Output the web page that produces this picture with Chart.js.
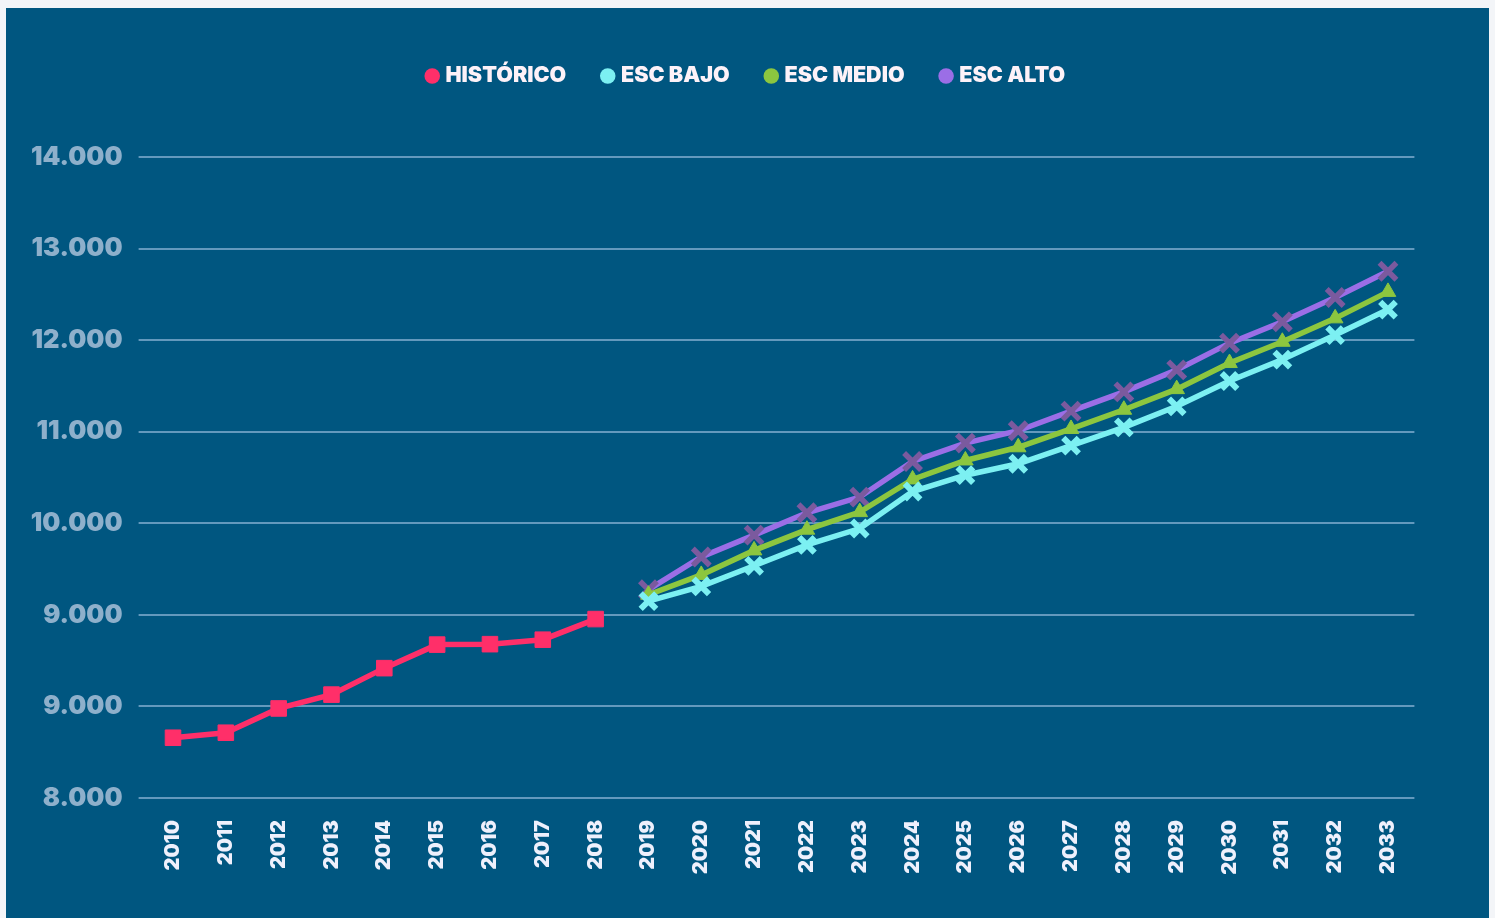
<!DOCTYPE html>
<html>
<head>
<meta charset="utf-8">
<script src="https://cdn.jsdelivr.net/npm/chart.js@4"></script>
<style>
html,body{margin:0;padding:0;background:#f3f5f8;width:1495px;height:918px;overflow:hidden}
#wrap{position:absolute;left:6px;top:8px;width:1483px;height:910px;background:#005680}
canvas{display:block}
</style>
</head>
<body>
<div id="wrap"><canvas id="c" width="1483" height="910"></canvas></div>
<script>
const years = ['2010','2011','2012','2013','2014','2015','2016','2017','2018','2019','2020','2021',
  '2022','2023','2024','2025','2026','2027','2028','2029','2030','2031','2032','2033'];
const seriesNames = ['HISTÓRICO','ESC BAJO','ESC MEDIO','ESC ALTO'];
const historico = [7658,7713,7978,8129,8418,8675,8680,8729,8954,
  null,null,null,null,null,null,null,null,null,null,null,null,null,null,null];
const escBajo = [null,null,null,null,null,null,null,null,null,
  9150,9311,9536,9764,9943,10347,10525,10650,10848,11048,11277,11554,11788,12055,12334];
const escMedio = [null,null,null,null,null,null,null,null,null,
  9220,9436,9704,9930,10122,10479,10686,10830,11030,11240,11465,11750,11982,12238,12527];
const escAlto = [null,null,null,null,null,null,null,null,null,
  9275,9632,9871,10115,10286,10675,10876,11011,11225,11435,11675,11967,12200,12466,12752];
const yTickValues = [7000,8000,9000,10000,11000,12000,13000,14000];
const yTickLabels = ['8.000','9.000','9.000','10.000','11.000','12.000','13.000','14.000'];

const legendColors = ['#ff2f69','#7cf0f2','#8cc63f','#9b6ee6'];
const FONT = 'Inter, "Noto Sans", sans-serif';

function build(){
  const legendGap = {
    id:'legendGap',
    beforeLayout(chart){
      const lg = chart.legend;
      if (lg && !lg._gapPatched){
        const orig = lg.fit;
        lg.fit = function(){ orig.call(this); this.height += 60.25; };
        lg._gapPatched = true;
      }
    }
  };
  new Chart(document.getElementById('c'), {
    type:'line',
    data:{
      labels: years,
      datasets:[
        {label:seriesNames[0], data:historico, borderColor:'#ff2f69', backgroundColor:'#ff2f69',
         borderWidth:5.5, pointStyle:'rect', pointRadius:11, pointBorderWidth:1,
         pointBackgroundColor:'#ff2f69', pointBorderColor:'#ff2f69', spanGaps:false},
        {label:seriesNames[1], data:escBajo, borderColor:'#7cf0f2', backgroundColor:'#7cf0f2',
         borderWidth:5.5, pointStyle:'crossRot', pointRadius:11, pointBorderWidth:6,
         pointBackgroundColor:'#7cf0f2', pointBorderColor:'#7cf0f2'},
        {label:seriesNames[2], data:escMedio, borderColor:'#8cc63f', backgroundColor:'#8cc63f',
         borderWidth:5.5, pointStyle:'triangle', pointRadius:9, pointBorderWidth:1,
         pointBackgroundColor:'#8cc63f', pointBorderColor:'#8cc63f'},
        {label:seriesNames[3], data:escAlto, borderColor:'#9b6ee6', backgroundColor:'#9b6ee6',
         borderWidth:5.5, pointStyle:'crossRot', pointRadius:12, pointBorderWidth:5.5,
         pointBackgroundColor:'#7b5a9e', pointBorderColor:'#7b5a9e'}
      ]
    },
    options:{
      responsive:false,
      animation:false,
      layout:{padding:{top:18.25,left:0,right:0,bottom:0}},
      plugins:{
        tooltip:{enabled:false},
        legend:{
          position:'top', align:'center',
          labels:{
            usePointStyle:true, boxWidth:5, boxHeight:11, padding:39,
            color:'#fdf2f8',
            font:{family:FONT, size:21.5, weight:900},
            generateLabels(chart){
              const items = Chart.defaults.plugins.legend.labels.generateLabels(chart);
              items.forEach((it,i)=>{ it.fillStyle = legendColors[i]; it.strokeStyle = legendColors[i];
                it.pointStyle='circle'; it.lineWidth=0; it.rotation=0; });
              return items;
            }
          }
        }
      },
      scales:{
        x:{
          offset:true,
          grid:{display:false, drawTicks:false},
          border:{display:false},
          ticks:{minRotation:90, maxRotation:90, autoSkip:false, padding:22,
            color:'#eef0fc', font:{family:FONT, size:20, weight:900}},
          afterFit(s){ s.height = 120; }
        },
        y:{
          min:7000, max:14000,
          afterBuildTicks(s){ s.ticks = yTickValues.map(v=>({value:v})); },
          grid:{color:'#6399bd', lineWidth:2, drawTicks:true, tickLength:8},
          border:{display:false},
          ticks:{padding:16, color:'#8eb0cb', font:{family:FONT, size:25.5, weight:900},
            callback(v){ const i = yTickValues.indexOf(v); return i>=0 ? yTickLabels[i] : ''; }},
          afterFit(s){ s.width = 140.6; }
        },
        y2:{
          position:'right', display:true,
          grid:{display:false, drawTicks:false}, border:{display:false},
          ticks:{display:false},
          afterFit(s){ s.width = 74.6; }
        }
      }
    },
    plugins:[legendGap]
  });
}
if (document.fonts && document.fonts.load){
  Promise.all([document.fonts.load('900 20px Inter')]).then(build, build);
} else build();
</script>
</body>
</html>
